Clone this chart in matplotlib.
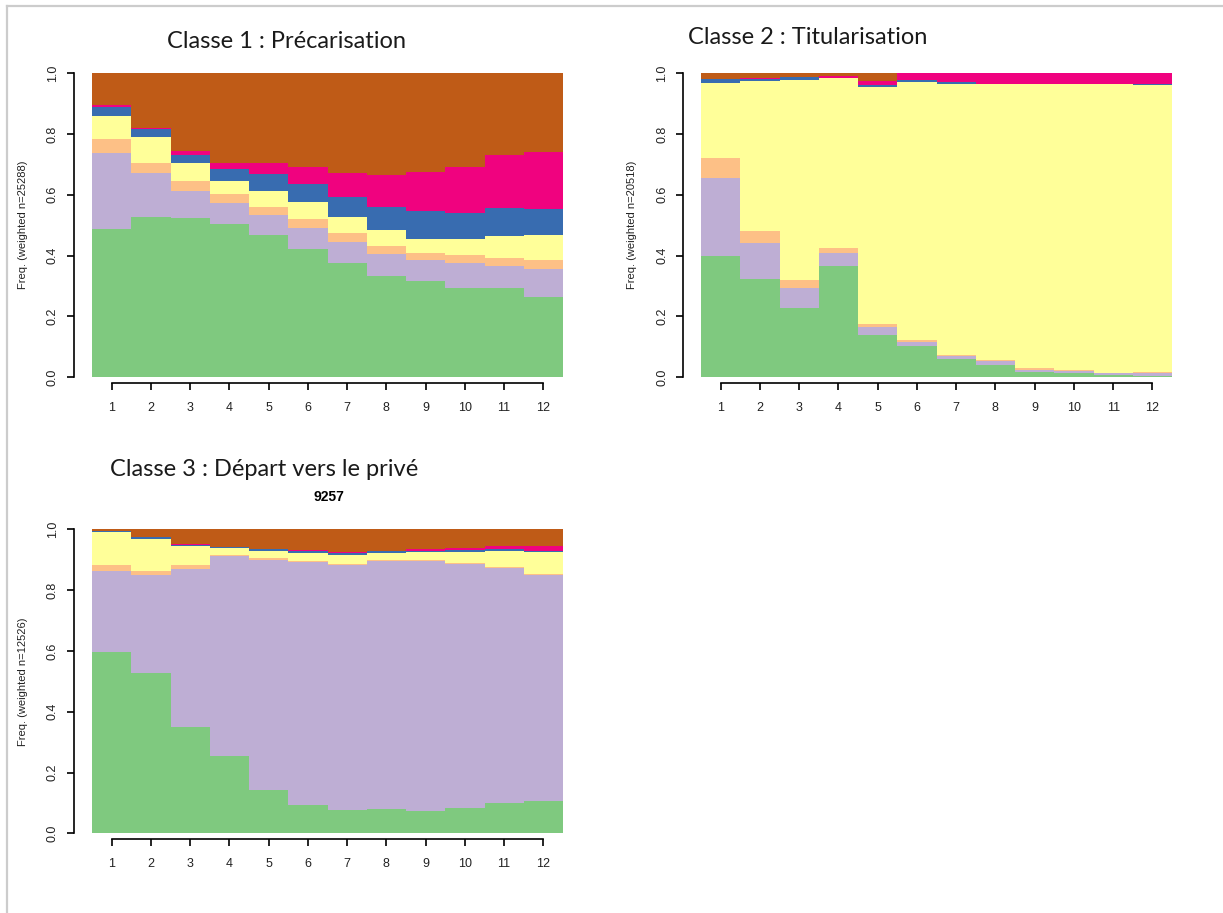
import numpy as np
import matplotlib
matplotlib.use('Agg')
import matplotlib.pyplot as plt
from matplotlib.lines import Line2D

W, H = 1223, 913
colors = ['#7FC97F', '#BEAED4', '#FDC086', '#FFFF99', '#386CB0', '#F0027F', '#BF5B17']
positions = np.arange(1, 13)
tick_labels = [str(i) for i in positions]

# classe 1 : state frequencies per position (bottom to top)
c1_green = [.486, .527, .524, .504, .468, .421, .377, .334, .315, .294, .292, .262]
c1_purple = [.252, .144, .090, .069, .066, .070, .067, .070, .070, .080, .072, .094]
c1_orange = [.046, .033, .033, .031, .027, .030, .031, .028, .024, .027, .027, .028]
c1_yellow = [.077, .087, .057, .040, .053, .054, .052, .053, .045, .053, .073, .084]
c1_blue = [.027, .025, .026, .040, .054, .059, .067, .076, .091, .087, .094, .084]
c1_magenta = [.006, .005, .015, .020, .036, .057, .077, .103, .129, .151, .173, .190]
c1_brown = [.106, .179, .255, .296, .296, .309, .329, .336, .326, .308, .269, .258]

# classe 2
c2_green = [.397, .323, .228, .367, .137, .101, .058, .041, .018, .012, .008, .004]
c2_purple = [.258, .119, .066, .041, .027, .013, .010, .011, .006, .009, .005, .009]
c2_orange = [.066, .039, .024, .016, .010, .007, .005, .003, .005, .001, .001, .005]
c2_yellow = [.246, .495, .661, .559, .782, .850, .892, .910, .936, .943, .951, .944]
c2_blue = [.014, .005, .008, .002, .005, .006, .006, .001, .000, .000, .000, .002]
c2_magenta = [.000, .004, .001, .007, .014, .023, .029, .034, .035, .035, .035, .036]
c2_brown = [.019, .015, .012, .008, .025, 0, 0, 0, 0, 0, 0, 0]

# classe 3
c3_green = [.596, .526, .350, .254, .143, .094, .077, .079, .072, .082, .100, .107]
c3_purple = [.267, .323, .518, .658, .755, .799, .807, .817, .824, .804, .773, .743]
c3_orange = [.021, .013, .014, .005, .006, .003, .002, .002, .002, .003, .002, .002]
c3_yellow = [.106, .106, .064, .021, .025, .027, .030, .025, .028, .037, .054, .074]
c3_blue = [.003, .006, .003, .004, .005, .007, .005, .004, .004, .006, .007, .004]
c3_magenta = [.001, .001, .003, .001, .002, .002, .004, .003, .004, .006, .008, .015]
c3_brown = [.006, .025, .048, .057, .064, .068, .075, .070, .066, .062, .056, .055]

panels = [
    ([c1_green, c1_purple, c1_orange, c1_yellow, c1_blue, c1_magenta, c1_brown],
     'Freq. (weighted n=25288)', (92, 563, 73.3, 377)),
    ([c2_green, c2_purple, c2_orange, c2_yellow, c2_blue, c2_magenta, c2_brown],
     'Freq. (weighted n=20518)', (701, 1172, 73.3, 377)),
    ([c3_green, c3_purple, c3_orange, c3_yellow, c3_blue, c3_magenta, c3_brown],
     'Freq. (weighted n=12526)', (92, 563, 529.3, 833.3)),
]

fig = plt.figure(figsize=(W / 100, H / 100), dpi=100)
px = 0.72  # points per pixel

for series, ylab, (x0, x1, y0, y1) in panels:
    ax = fig.add_axes([x0 / W, 1 - y1 / H, (x1 - x0) / W, (y1 - y0) / H])
    bottom = np.zeros(12)
    for vals, col in zip(series, colors):
        ax.bar(positions, vals, width=1.0, bottom=bottom, color=col,
               linewidth=0, antialiased=False)
        bottom += np.array(vals)
    ax.set_xlim(0.5, 12.5)
    ax.set_ylim(0, 1)
    for s in ['top', 'right']:
        ax.spines[s].set_visible(False)
    ax.spines['left'].set_position(('outward', 18 * px))
    ax.spines['bottom'].set_position(('outward', 6 * px))
    ax.spines['left'].set_bounds(0, 1)
    ax.spines['bottom'].set_bounds(1, 12)
    ax.spines['left'].set_linewidth(1.2)
    ax.spines['bottom'].set_linewidth(1.2)
    ax.set_xticks(positions)
    ax.set_xticklabels(tick_labels, fontsize=9, family='Liberation Sans', color='#222222')
    ax.set_yticks([0, 0.2, 0.4, 0.6, 0.8, 1.0])
    ax.set_yticklabels(['0.0', '0.2', '0.4', '0.6', '0.8', '1.0'], rotation=90,
                       va='center', fontsize=9, family='Liberation Sans', color='#222222')
    ax.tick_params(length=7 * px, width=1.2)
    ax.tick_params(axis='x', pad=12 * px)
    ax.tick_params(axis='y', pad=8 * px)
    ax.set_ylabel(ylab, fontsize=8, family='Liberation Sans', labelpad=14, color='#222222')
    ax.patch.set_alpha(0)

title_kw = dict(fontsize=17, family='Lato', weight='normal', va='center',
                ha='left', color='#1a1a1a')
fig.text(167 / W, 1 - 41 / H, 'Classe 1 : Précarisation', **title_kw)
fig.text(688 / W, 1 - 37 / H, 'Classe 2 : Titularisation', **title_kw)
fig.text(110 / W, 1 - 469 / H, 'Classe 3 : Départ vers le privé', **title_kw)
fig.text(329 / W, 1 - 497 / H, '9257', fontsize=10, family='Liberation Sans',
         weight='bold', va='center', ha='center')

# slide border
fig.add_artist(Line2D([7 / W, 7 / W], [0, 1 - 6 / H], color='#cccccc', lw=1.6))
fig.add_artist(Line2D([7 / W, 1], [1 - 6 / H, 1 - 6 / H], color='#cccccc', lw=1.6))

plt.savefig('out.png', dpi=100)
